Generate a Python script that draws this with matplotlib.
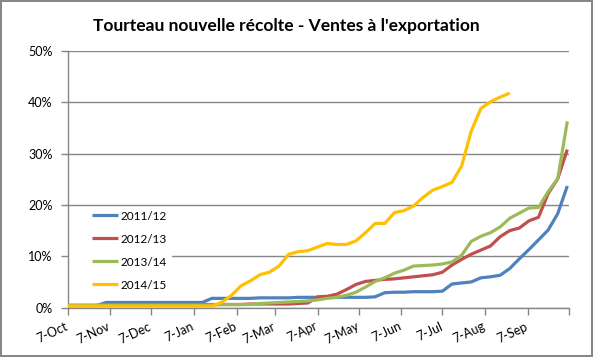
import numpy as np
import matplotlib
matplotlib.use("Agg")
import matplotlib.pyplot as plt
import matplotlib.dates as mdates
import matplotlib.transforms as mtransforms
from matplotlib.patches import Rectangle
from matplotlib.ticker import FuncFormatter, MultipleLocator

plt.rcParams['font.family'] = ['Lato', 'DejaVu Sans']

title = "Tourteau nouvelle récolte - Ventes à l'exportation"
series_names = ["2011/12", "2012/13", "2013/14", "2014/15"]
colors = ["#4F81BD", "#C0504D", "#9BBB59", "#FFC000"]

# weekly dates starting 7 Oct
start = np.datetime64("2014-10-07")
weeks = start + np.arange(53) * np.timedelta64(7, "D")

s2011 = [0.4, 0.4, 0.4, 0.4, 1.0, 1.0, 1.0, 1.0, 1.0, 1.0, 1.0, 1.0, 1.0, 1.0,
         1.0, 1.8, 1.8, 1.8, 1.8, 1.8, 1.9, 1.9, 1.9, 1.9, 2.0, 2.0, 2.0, 2.0,
         2.0, 2.0, 2.0, 2.0, 2.1, 2.9, 3.0, 3.0, 3.1, 3.1, 3.1, 3.2, 4.6, 4.8,
         5.0, 5.8, 6.0, 6.3, 7.6, 9.5, 11.3, 13.2, 15.1, 18.3, 23.7]
s2012 = [0.4, 0.4, 0.4, 0.4, 0.6, 0.6, 0.6, 0.6, 0.6, 0.6, 0.6, 0.6, 0.6, 0.6,
         0.6, 0.6, 0.6, 0.6, 0.6, 0.7, 0.7, 0.7, 0.7, 0.7, 0.8, 0.9, 2.1, 2.2,
         2.6, 3.5, 4.5, 5.1, 5.3, 5.5, 5.6, 5.8, 6.0, 6.2, 6.4, 6.9, 8.3, 9.4,
         10.4, 11.2, 12.0, 13.8, 15.0, 15.5, 16.9, 17.6, 22.2, 25.1, 30.8]
s2013 = [0.5, 0.5, 0.5, 0.5, 0.5, 0.5, 0.5, 0.5, 0.5, 0.5, 0.5, 0.5, 0.5, 0.5,
         0.5, 0.5, 0.6, 0.6, 0.6, 0.6, 0.8, 0.9, 1.0, 1.1, 1.2, 1.3, 1.5, 1.8,
         2.0, 2.4, 3.0, 4.0, 5.1, 5.8, 6.7, 7.3, 8.1, 8.2, 8.3, 8.5, 8.9, 10.2,
         12.9, 13.9, 14.6, 15.7, 17.4, 18.4, 19.4, 19.5, 22.6, 25.1, 36.3]
s2014 = [0.3, 0.3, 0.3, 0.3, 0.3, 0.3, 0.3, 0.3, 0.3, 0.3, 0.3, 0.3, 0.3, 0.3,
         0.3, 0.3, 1.0, 2.3, 4.2, 5.2, 6.4, 6.9, 8.1, 10.4, 10.9, 11.1, 11.8,
         12.5, 12.3, 12.3, 13.0, 14.6, 16.4, 16.4, 18.5, 18.9, 19.8, 21.5, 22.9,
         23.6, 24.4, 27.6, 34.4, 38.8, 40.1, 41.0, 41.8]

W, H = 593, 357
fig = plt.figure(figsize=(W / 100, H / 100), dpi=100)
fig.patch.set_edgecolor("#868686")
fig.patch.set_linewidth(1.5)

left, right, top, bottom = 67.7, 568.7, 51.0, 307.6
ax = fig.add_axes([left / W, 1 - bottom / H, (right - left) / W, (bottom - top) / H])

grid_c = "#868686"
for s in ["top", "right"]:
    ax.spines[s].set_visible(False)
for s in ["left", "bottom"]:
    ax.spines[s].set_color(grid_c)
    ax.spines[s].set_linewidth(1.0)

ax.set_ylim(0, 0.5)
ax.yaxis.set_major_locator(MultipleLocator(0.1))
ax.yaxis.set_major_formatter(FuncFormatter(lambda v, p: f"{v*100:.0f}%"))
ax.grid(axis="y", color=grid_c, linewidth=1.0, zorder=0)
ax.set_axisbelow(True)

xmin, xmax = np.datetime64("2014-10-07"), np.datetime64("2015-10-07")
ax.set_xlim(xmin, xmax)
ax.xaxis.set_major_locator(mdates.MonthLocator(bymonthday=7))
last_tick = mdates.date2num(xmax)


def fmt_date(v, p):
    if abs(v - last_tick) < 0.5:
        return ""
    d = mdates.num2date(v)
    return f"{d.day}-{d.strftime('%b')}"


ax.xaxis.set_major_formatter(FuncFormatter(fmt_date))

ax.tick_params(axis="both", colors=grid_c, labelcolor="#000000", length=5, width=1.0)
ax.tick_params(axis="y", labelsize=9, pad=6)
ax.tick_params(axis="x", labelsize=9, pad=4)
offset = mtransforms.ScaledTranslation(-3 / 100, 0, fig.dpi_scale_trans)
for lab in ax.get_xticklabels():
    lab.set_rotation(25)
    lab.set_ha("right")
    lab.set_va("top")
    lab.set_rotation_mode("anchor")
    lab.set_transform(lab.get_transform() + offset)

# white legend background
ax.add_patch(Rectangle((68.5 / W, 1 - 294 / H), (171.7 - 68.5) / W, (294 - 207) / H,
                       transform=fig.transFigure, facecolor="white", edgecolor="none",
                       zorder=1))

data = [s2011, s2012, s2013, s2014]
handles = []
for name, vals, c in zip(series_names, data, colors):
    v = np.array(vals) / 100.0
    ln, = ax.plot(weeks[:len(v)], v, color=c, linewidth=2.3, label=name, zorder=3,
                  solid_joinstyle="round", solid_capstyle="butt")
    handles.append(ln)

leg = fig.legend(handles=handles, loc="upper left",
                 bbox_to_anchor=(91.7 / W, 1 - 210.5 / H),
                 frameon=False, fontsize=8.5, handlelength=2.25, handletextpad=0.2,
                 labelspacing=1.02, borderpad=0, borderaxespad=0)

fig.text(286.5 / W, 1 - 26 / H, title, ha="center", va="center",
         fontsize=12.5, fontweight="bold", color="#000000")

fig.savefig("out.png", dpi=100, edgecolor=fig.get_edgecolor())
